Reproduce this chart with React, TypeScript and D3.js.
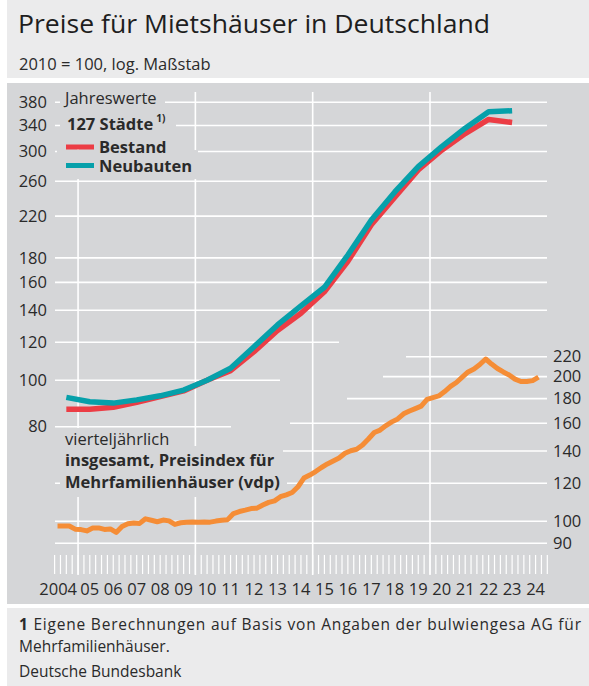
import React from 'react'
import * as d3 from 'd3'

// Jahreswerte, 127 Städte (2010 = 100)
const years = [2004, 2005, 2006, 2007, 2008, 2009, 2010, 2011, 2012, 2013, 2014, 2015, 2016, 2017, 2018, 2019, 2020, 2021, 2022, 2023]
const bestand = [87, 87, 87.8, 89.9, 92.4, 95, 100, 104.7, 114.7, 127, 138, 153, 177, 211, 241, 274.6, 302, 327, 350, 345]
const neubauten = [92.1, 90.2, 89.6, 91, 92.8, 95.4, 100, 105.9, 117.5, 130.4, 143, 156.3, 182.5, 216, 247, 279, 307, 335.6, 363, 365]

// vierteljährlich, vdp Mehrfamilienhäuser, ab 2004 Q1
const vdpStartYear = 2004
const vdp = [
  97.8, 97.8, 97.8, 96.3, 96.1, 95.5, 96.8, 96.9, 96.2, 96.4,
  94.8, 97.5, 98.8, 99.2, 99.0, 101.2, 100.5, 99.8, 100.6, 100.2,
  98.5, 99.3, 99.6, 99.7, 99.6, 99.7, 99.6, 100.1, 100.5, 100.8,
  103.8, 104.8, 105.5, 106.3, 106.5, 108.1, 109.5, 110.3, 112.5, 113.5,
  114.8, 118, 123, 124.8, 126.9, 129.4, 131.6, 133.5, 135.4, 138.5,
  140.2, 141.2, 144.1, 148.3, 153, 154.8, 158.2, 161, 163.3, 167.3,
  169.6, 171.6, 173.6, 179.3, 180.9, 182.3, 186.2, 190.8, 194.4, 199.5,
  204.5, 207.4, 211.9, 217.6, 212.4, 207.9, 204.5, 201.5, 197.6, 195.3,
  195.3, 196.2, 199.5,
]

const xLabels = ['2004', '05', '06', '07', '08', '09', '10', '11', '12', '13', '14', '15', '16', '17', '18', '19', '20', '21', '22', '23', '24']
const leftTicks = [80, 100, 120, 140, 160, 180, 220, 260, 300, 340, 380]
const rightTicks = [90, 100, 120, 140, 160, 180, 200, 220]
const yearGrid = [2005, 2010, 2015, 2020]

const PANEL = '#d5d6d8'
const HEAD = '#ebebec'
const TEXT = '#2a2a2a'
const RED = '#ec3d45'
const TEAL = '#06a0aa'
const ORANGE = '#f58d36'
const FONT = '"Open Sans", "Noto Sans", sans-serif'

const App = () => {
  const x = d3.scaleLinear().domain([2004, 2025]).range([54.6, 547.3])
  const yL = d3.scaleLog().domain([80, 380]).range([426.7, 102.3])
  const yR = d3.scaleLog().domain([90, 220]).range([543.3, 356.7])

  // where the horizontal grid stops / starts so it stays clear of the other series
  const leftEnd = (v: number) => (v === 120 ? 339 : v === 100 ? 280 : v === 80 ? 231 : 547)
  const rightStart = (v: number) =>
    v === 220 ? 406 : v === 200 ? 383 : v === 180 ? 347 : v === 160 ? 290 : v === 140 ? 283 : 55

  const annualLine = d3.line<number>()
    .x((d, i) => x(years[i] + 0.5))
    .y(d => yL(d))

  const vdpLine = d3.line<number>()
    .x((d, i) => x(vdpStartYear + (i + 0.5) / 4))
    .y(d => yR(d))

  const quarterTicks = d3.range(0, 21 * 4 + 1).map(q => x(2004 + q / 4))

  const bgBoxes = [
    [60, 90, 105, 20],
    [60, 110, 116, 38],
    [57, 150, 141, 29],
    [57, 428, 113, 18],
    [57, 446, 226, 26],
    [60, 472, 227, 25],
  ]

  return (
    <svg width={589} height={686} style={{ position: 'absolute', left: 0, top: 0, fontFamily: FONT }}>
      <rect x={0} y={0} width={589} height={686} fill='#fff' />
      <rect x={7} y={0} width={582} height={78} fill={HEAD} />
      <rect x={7} y={83} width={582} height={521} fill={PANEL} />
      <rect x={7} y={608} width={582} height={78} fill={HEAD} />

      <text x={18} y={33} fontSize={25.5} fill='#1e1e1e' textLength={472} lengthAdjust='spacingAndGlyphs'>
        Preise für Mietshäuser in Deutschland
      </text>
      <text x={19} y={70} fontSize={16.5} fill={TEXT}>2010 = 100, log. Maßstab</text>

      {/* grid */}
      <g stroke='#fff' strokeWidth={1.6}>
        {yearGrid.map(yr => (
          <line key={'v' + yr} x1={x(yr)} x2={x(yr)} y1={92} y2={575} />
        ))}
        {leftTicks.map(v => (
          <line key={'l' + v} x1={55} x2={leftEnd(v)} y1={yL(v)} y2={yL(v)} />
        ))}
        {rightTicks.map(v => (
          <line key={'r' + v} x1={rightStart(v)} x2={547} y1={yR(v)} y2={yR(v)} />
        ))}
      </g>
      <g stroke='#fff' strokeWidth={1.2}>
        {quarterTicks.map((px, i) => (
          <line key={'q' + i} x1={px} x2={px} y1={555} y2={574} />
        ))}
      </g>

      {/* text backgrounds that break the grid */}
      {bgBoxes.map((b, i) => (
        <rect key={'bg' + i} x={b[0]} y={b[1]} width={b[2]} height={b[3]} fill={PANEL} />
      ))}

      {/* axes labels */}
      <g fontSize={16.5} fill={TEXT}>
        {leftTicks.map(v => (
          <text key={'lt' + v} x={47} y={yL(v)} dy='0.35em' textAnchor='end'>{v}</text>
        ))}
        {rightTicks.map(v => (
          <text key={'rt' + v} x={553} y={yR(v)} dy='0.35em'>{v}</text>
        ))}
        {xLabels.map((lab, i) => (
          i === 0
            ? <text key={'x' + i} x={x(2005) - 1} y={595} textAnchor='end'>{lab}</text>
            : <text key={'x' + i} x={x(2004 + i + 0.5)} y={595} textAnchor='middle'>{lab}</text>
        ))}
      </g>

      {/* series */}
      <path d={annualLine(bestand) ?? ''} fill='none' stroke={RED} strokeWidth={5.5} strokeLinejoin='round' />
      <path d={annualLine(neubauten) ?? ''} fill='none' stroke={TEAL} strokeWidth={5.5} strokeLinejoin='round' />
      <path d={vdpLine(vdp) ?? ''} fill='none' stroke={ORANGE} strokeWidth={5} strokeLinejoin='round' />

      {/* legend upper */}
      <g fill={TEXT} fontSize={16.5}>
        <text x={65} y={104}>Jahreswerte</text>
        <text x={67} y={130} fontWeight={700}>
          127 Städte<tspan fontSize={10} dx={3} dy={-8}>1)</tspan>
        </text>
        <rect x={66} y={144.5} width={28} height={5} fill={RED} />
        <rect x={66} y={163} width={28} height={5} fill={TEAL} />
        <text x={99} y={153} fontWeight={700}>Bestand</text>
        <text x={99} y={172} fontWeight={700}>Neubauten</text>
      </g>

      {/* legend lower */}
      <g fill={TEXT} fontSize={16.5}>
        <text x={65} y={445}>vierteljährlich</text>
        <text x={65} y={466} fontWeight={700}>insgesamt, Preisindex für</text>
        <text x={65} y={488} fontWeight={700}>Mehrfamilienhäuser (vdp)</text>
      </g>

      {/* footer */}
      <g fill={TEXT} fontSize={15.5}>
        <text x={19} y={630} textLength={562} lengthAdjust='spacing'>
          <tspan fontWeight={700}>1</tspan> Eigene Berechnungen auf Basis von Angaben der bulwiengesa AG für
        </text>
        <text x={19} y={652}>Mehrfamilienhäuser.</text>
        <text x={19} y={677}>Deutsche Bundesbank</text>
      </g>
    </svg>
  )
}

export default App
